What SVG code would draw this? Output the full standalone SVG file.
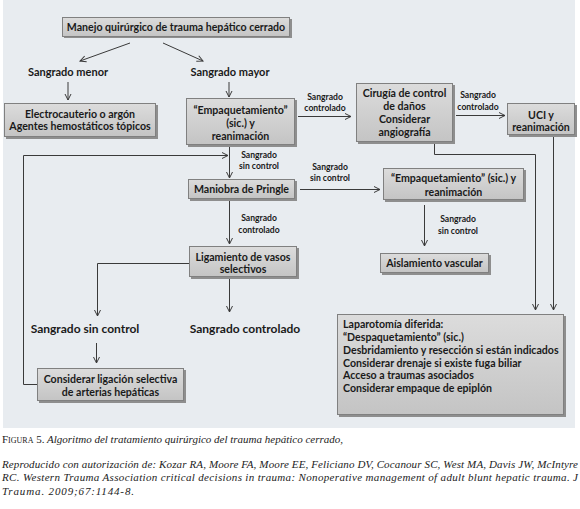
<svg xmlns="http://www.w3.org/2000/svg" width="580" height="509" viewBox="0 0 580 509">
<style>
.bx{fill:url(#g);stroke:#808080;stroke-width:1}
.sh{fill:#8e8e8e}
.t{font-family:Lato,"Liberation Sans",sans-serif;font-weight:bold;font-size:10.6px;fill:#1a1a1a;text-anchor:middle}
.tl{font-family:Lato,"Liberation Sans",sans-serif;font-weight:bold;font-size:10.6px;fill:#1a1a1a}
.s{font-family:Lato,"Liberation Sans",sans-serif;font-weight:bold;font-size:8.6px;fill:#1a1a1a;text-anchor:middle}
.m{font-family:Lato,"Liberation Sans",sans-serif;font-weight:bold;font-size:11px;fill:#1a1a1a;text-anchor:middle}
.b{font-family:Lato,"Liberation Sans",sans-serif;font-weight:bold;font-size:12px;fill:#1a1a1a;text-anchor:middle}
.c{fill:none;stroke:#3a3a3a;stroke-width:1}
.a{marker-end:url(#ar)}
.cap{font-family:"Liberation Serif","DejaVu Serif",serif;font-style:italic;font-size:11px;fill:#222}
</style>
<defs>
<linearGradient id="g" x1="0" y1="0" x2="0" y2="1">
<stop offset="0" stop-color="#dcdcdc"/>
<stop offset="1" stop-color="#c4c4c4"/>
</linearGradient>
<marker id="ar" markerWidth="8" markerHeight="8" refX="7" refY="4" orient="auto" markerUnits="userSpaceOnUse">
<path d="M1,1 L7,4 L1,7" fill="none" stroke="#3a3a3a" stroke-width="1"/>
</marker>
</defs>
<rect x="3" y="0" width="572" height="428" fill="#e8ecf0"/>

<g id="connectors">
<line class="c a" x1="130" y1="43" x2="80" y2="61"/>
<line class="c a" x1="163" y1="43" x2="203" y2="61"/>
<line class="c a" x1="68" y1="82" x2="68" y2="100"/>
<line class="c a" x1="229" y1="82" x2="229" y2="97"/>
<line class="c a" x1="298" y1="116.5" x2="351" y2="116.5"/>
<line class="c a" x1="456" y1="115.5" x2="505" y2="115.5"/>
<line class="c a" x1="229.5" y1="147" x2="229.5" y2="178"/>
<polyline class="c a" points="37,384.5 23.5,384.5 23.5,155.5 228,155.5"/>
<line class="c a" x1="229.5" y1="200" x2="229.5" y2="244"/>
<line class="c a" x1="300" y1="189.5" x2="380" y2="189.5"/>
<line class="c a" x1="424.5" y1="205" x2="424.5" y2="246"/>
<polyline class="c a" points="189,263.5 97.5,263.5 97.5,316"/>
<line class="c a" x1="229.5" y1="278" x2="229.5" y2="312"/>
<line class="c a" x1="96.5" y1="343" x2="96.5" y2="363"/>
<polyline class="c a" points="434.5,143 434.5,154.5 535.5,154.5 535.5,310"/>
<line class="c a" x1="553.5" y1="136" x2="553.5" y2="310"/>
</g>

<g id="labels">
<text class="m" x="68" y="76">Sangrado menor</text>
<text class="m" x="230" y="76">Sangrado mayor</text>
<text class="s" x="325" y="100">Sangrado</text>
<text class="s" x="325" y="111">controlado</text>
<text class="s" x="478" y="98">Sangrado</text>
<text class="s" x="478" y="110">controlado</text>
<text class="s" x="259" y="158">Sangrado</text>
<text class="s" x="259" y="169">sin control</text>
<text class="s" x="330" y="170">Sangrado</text>
<text class="s" x="330" y="181">sin control</text>
<text class="s" x="259" y="221">Sangrado</text>
<text class="s" x="259" y="233">controlado</text>
<text class="s" x="458" y="222">Sangrado</text>
<text class="s" x="458" y="234">sin control</text>
<text class="b" x="85" y="333">Sangrado sin control</text>
<text class="b" x="245" y="333">Sangrado controlado</text>
</g>

<g id="n-manejo">
<rect class="sh" x="64" y="19" width="228" height="19"/>
<rect class="bx" x="62.5" y="17.5" width="227" height="19"/>
<text class="t" x="176" y="31">Manejo quirúrgico de trauma hepático cerrado</text>
</g>
<g id="n-electro">
<rect class="sh" x="6" y="105" width="152" height="34"/>
<rect class="bx" x="4.5" y="103.5" width="151" height="33"/>
<text class="t" x="80" y="118">Electrocauterio o argón</text>
<text class="t" x="80" y="130">Agentes hemostáticos tópicos</text>
</g>
<g id="n-empaq1">
<rect class="sh" x="188" y="100" width="109" height="47"/>
<rect class="bx" x="186.5" y="98.5" width="108" height="46"/>
<text class="t" x="240.5" y="114">“Empaquetamiento”</text>
<text class="t" x="240.5" y="127">(sic.) y</text>
<text class="t" x="240.5" y="140">reanimación</text>
</g>
<g id="n-cirugia">
<rect class="sh" x="358" y="85" width="97" height="59"/>
<rect class="bx" x="356.5" y="83.5" width="96" height="58"/>
<text class="t" x="404.5" y="97">Cirugía de control</text>
<text class="t" x="404.5" y="110">de daños</text>
<text class="t" x="404.5" y="123">Considerar</text>
<text class="t" x="404.5" y="136">angiografía</text>
</g>
<g id="n-uci">
<rect class="sh" x="509" y="105" width="68" height="32"/>
<rect class="bx" x="507.5" y="103.5" width="67" height="31"/>
<text class="t" x="541" y="119">UCI y</text>
<text class="t" x="541" y="131">reanimación</text>
</g>
<g id="n-pringle">
<rect class="sh" x="190" y="181" width="107" height="20"/>
<rect class="bx" x="188.5" y="179.5" width="106" height="19"/>
<text class="t" x="241.5" y="193">Maniobra de Pringle</text>
</g>
<g id="n-empaq2">
<rect class="sh" x="385" y="170" width="141" height="32"/>
<rect class="bx" x="383.5" y="168.5" width="140" height="31"/>
<text class="t" x="453.5" y="182">“Empaquetamiento” (sic.) y</text>
<text class="t" x="453.5" y="196">reanimación</text>
</g>
<g id="n-ligamiento">
<rect class="sh" x="191" y="248" width="108" height="31"/>
<rect class="bx" x="189.5" y="246.5" width="107" height="30"/>
<text class="t" x="243" y="261">Ligamiento de vasos</text>
<text class="t" x="243" y="273">selectivos</text>
</g>
<g id="n-aislamiento">
<rect class="sh" x="382" y="255" width="109" height="20"/>
<rect class="bx" x="380.5" y="253.5" width="108" height="19"/>
<text class="t" x="434.5" y="267">Aislamiento vascular</text>
</g>
<g id="n-considerar">
<rect class="sh" x="39" y="370" width="147" height="33"/>
<rect class="bx" x="37.5" y="368.5" width="146" height="32"/>
<text class="t" x="110.5" y="383">Considerar ligación selectiva</text>
<text class="t" x="110.5" y="396">de arterias hepáticas</text>
</g>
<g id="n-laparotomia">
<rect class="sh" x="339" y="316" width="227" height="101"/>
<rect class="bx" x="337.5" y="314.5" width="226" height="100"/>
<text class="tl" x="343" y="328">Laparotomía diferida:</text>
<text class="tl" x="343" y="341">“Despaquetamiento” (sic.)</text>
<text class="tl" x="343" y="354">Desbridamiento y resección si están indicados</text>
<text class="tl" x="343" y="367">Considerar drenaje si existe fuga biliar</text>
<text class="tl" x="343" y="379">Acceso a traumas asociados</text>
<text class="tl" x="343" y="392">Considerar empaque de epiplón</text>
</g>

<g id="caption">
<text class="cap" x="2" y="443" textLength="341" lengthAdjust="spacing"><tspan font-style="normal">F</tspan><tspan font-style="normal" font-size="8">IGURA</tspan><tspan font-style="normal"> 5.</tspan> Algoritmo del tratamiento quirúrgico del trauma hepático cerrado,</text>
<text class="cap" x="2" y="468" textLength="576" lengthAdjust="spacing">Reproducido con autorización de: Kozar RA, Moore FA, Moore EE, Feliciano DV, Cocanour SC, West MA, Davis JW, McIntyre</text>
<text class="cap" x="2" y="481" textLength="576" lengthAdjust="spacing">RC. Western Trauma Association critical decisions in trauma: Nonoperative management of adult blunt hepatic trauma. J</text>
<text class="cap" x="2" y="495" textLength="132" lengthAdjust="spacing">Trauma. 2009;67:1144-8.</text>
</g>
</svg>
